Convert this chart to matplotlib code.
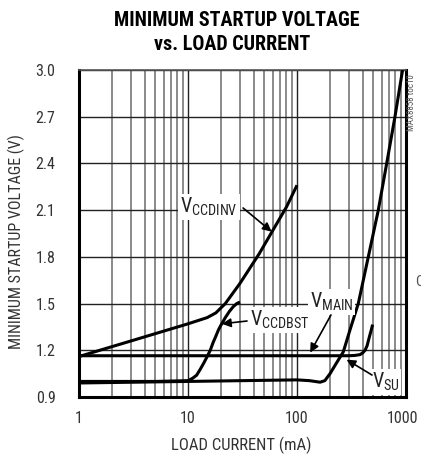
import numpy as np
import matplotlib
matplotlib.use("Agg")
import matplotlib.pyplot as plt
from matplotlib.ticker import FixedLocator, NullFormatter
from matplotlib.transforms import ScaledTranslation

plt.rcParams['font.family'] = ['Roboto Condensed', 'Liberation Sans', 'DejaVu Sans']
plt.rcParams['mathtext.fontset'] = 'custom'
plt.rcParams['mathtext.rm'] = 'Roboto Condensed'
plt.rcParams['mathtext.it'] = 'Roboto Condensed'

# data (load current in mA, voltage in V)
i_dinv = [1, 3, 10, 15, 18, 22, 30, 45, 60, 80, 100]
v_dinv = [1.16, 1.26, 1.37, 1.41, 1.44, 1.50, 1.63, 1.82, 1.97, 2.12, 2.26]

i_dbst = [1, 5, 10, 11, 12, 13, 14, 15, 16, 17, 18, 19, 20, 22, 24, 26, 28, 30]
v_dbst = [1.00, 1.00, 1.005, 1.02, 1.04, 1.08, 1.12, 1.16, 1.20, 1.25, 1.29, 1.33, 1.36, 1.41, 1.45, 1.48, 1.50, 1.51]

i_main = [1, 10, 100, 300, 340, 378, 400, 421, 440, 451, 465, 480, 494]
v_main = [1.165, 1.165, 1.165, 1.165, 1.167, 1.172, 1.183, 1.20, 1.23, 1.26, 1.295, 1.33, 1.365]

i_su = [1, 10, 100, 130, 163, 180, 201, 231, 266, 306, 365, 451, 557, 665, 792, 930]
v_su = [0.99, 1.00, 1.01, 1.005, 0.995, 1.005, 1.05, 1.12, 1.19, 1.33, 1.50, 1.80, 2.10, 2.40, 2.70, 3.00]

xticks = [1, 10, 100, 1000]
xtick_labels = ['1', '10', '100', '1000']
yticks = [0.9, 1.2, 1.5, 1.8, 2.1, 2.4, 2.7, 3.0]

fig = plt.figure(figsize=(4.21, 4.55), dpi=100)
ax = fig.add_axes([79/421, 1-397/455, 327/421, 327/455])

for xs, ys in [(i_dinv, v_dinv), (i_dbst, v_dbst), (i_main, v_main), (i_su, v_su)]:
    ax.plot(xs, ys, color='black', lw=2.2, solid_capstyle='butt', zorder=3)

ax.set_xscale('log')
ax.set_xlim(1, 1000)
ax.set_ylim(0.9, 3.0)
ax.xaxis.set_major_locator(FixedLocator(xticks))
ax.set_xticklabels(xtick_labels)
minors = [m * d for d in [1, 10, 100] for m in range(2, 10)]
ax.xaxis.set_minor_locator(FixedLocator(minors))
ax.xaxis.set_minor_formatter(NullFormatter())
ax.set_yticks(yticks)
ax.set_yticklabels(['%.1f' % v for v in yticks])

ax.grid(True, which='major', axis='both', color='#222222', lw=1.0)
ax.grid(True, which='minor', axis='x', color='#8a8a8a', lw=1.4)
ax.tick_params(which='both', length=0, labelsize=11.5, colors='#333333')
ax.tick_params(axis='x', pad=10)
ax.tick_params(axis='y', pad=17)

# nudge the last x label so it stays inside the figure
lab = ax.get_xticklabels()[-1]
lab.set_transform(lab.get_transform() + ScaledTranslation(-3/100, 0, fig.dpi_scale_trans))

for s in ['left', 'bottom', 'right']:
    ax.spines[s].set_linewidth(2.2)
    ax.spines[s].set_color('black')
ax.spines['top'].set_linewidth(1.2)
ax.spines['top'].set_color('#555555')

ax.set_xlabel('LOAD CURRENT (mA)', fontsize=12, color='#333333')
ax.set_ylabel('MINIMUM STARTUP VOLTAGE (V)', fontsize=11.5, color='#333333')
ax.xaxis.set_label_coords(0.497, -0.122)
ax.yaxis.set_label_coords(-0.165, 0.475)

fig.text(237/421, 1-20/455, 'MINIMUM STARTUP VOLTAGE', ha='center', va='center',
         fontsize=14.5, fontweight='bold')
fig.text(232/421, 1-45/455, 'vs. LOAD CURRENT', ha='center', va='center',
         fontsize=14.5, fontweight='bold')

box = dict(facecolor='white', edgecolor='none', pad=1.5)
labels = [
    (r'$\mathrm{V}_{\mathrm{CCDINV}}$', (15.6, 2.12), (32, 2.114), (58.5, 1.962)),
    (r'$\mathrm{V}_{\mathrm{CCDBST}}$', (70, 1.395), (34.8, 1.388), (20.5, 1.37)),
    (r'$\mathrm{V}_{\mathrm{MAIN}}$', (208, 1.512), (205, 1.427), (132, 1.185)),
    (r'$\mathrm{V}_{\mathrm{SU}}$', (649, 0.998), (488, 1.041), (285, 1.14)),
]
for txt, pos, start, tip in labels:
    ax.text(pos[0], pos[1], txt, ha='center', va='center', fontsize=14.5,
            color='#222222', bbox=box, zorder=4)
    ax.annotate('', xy=tip, xytext=start,
                arrowprops=dict(arrowstyle='-|>', color='black', lw=1.2,
                                mutation_scale=13, shrinkA=0, shrinkB=0),
                zorder=5)

fig.text(412/421, 1-103/455, 'MAX8858 toc10', rotation=90, ha='center', va='center',
         fontsize=6.5, color='#555555')
fig.text(415/421, 1-282/455, 'C', ha='left', va='center', fontsize=11, color='#555555')

fig.savefig('out.png', dpi=100)
